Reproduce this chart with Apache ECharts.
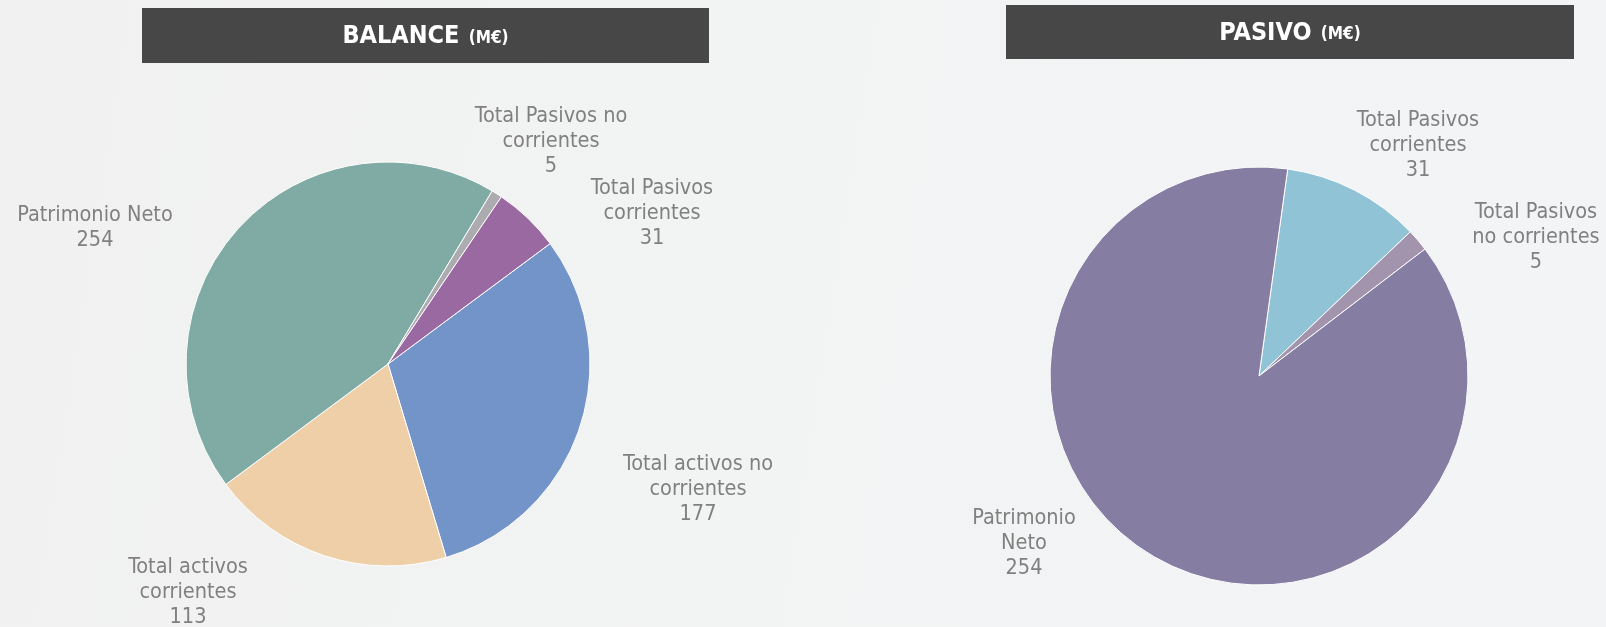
<!DOCTYPE html>
<html>
<head>
<meta charset="utf-8">
<script src="https://cdn.jsdelivr.net/npm/echarts@6/dist/echarts.min.js"></script>
<style>
  html, body { margin: 0; padding: 0; }
  #main { width: 1606px; height: 627px; }
</style>
</head>
<body>
<div id="main"></div>
<script>
// datos del balance (M€)
var balanceNames = ['Total activos no corrientes', 'Total activos corrientes', 'Patrimonio Neto', 'Total Pasivos no corrientes', 'Total Pasivos corrientes'];
var balanceLabels = ['Total activos no\ncorrientes', 'Total activos\ncorrientes', 'Patrimonio Neto', 'Total Pasivos no\ncorrientes', 'Total Pasivos\ncorrientes'];
var balanceValues = [177, 113, 254, 5, 31];
var balanceColors = ['#7394c9', '#efcfa7', '#7faba4', '#acacb0', '#9b69a2'];

// datos del pasivo (M€)
var pasivoNames = ['Total Pasivos corrientes', 'Total Pasivos no corrientes', 'Patrimonio Neto'];
var pasivoLabels = ['Total Pasivos\ncorrientes', 'Total Pasivos\nno corrientes', 'Patrimonio\nNeto'];
var pasivoValues = [31, 5, 254];
var pasivoColors = ['#8fc3d5', '#a394ad', '#867da3'];

// posicion de las etiquetas (centro del texto)
var labelPos = [
    [[698, 489], [188, 592], [95, 228], [551, 141], [652, 213]],
    [[1418, 145], [1536, 237], [1024, 543]]
];

var labelFont = "'DejaVu Sans Condensed', 'Liberation Sans Narrow', sans-serif";

function buildData(names, labels, values, colors) {
    var arr = [];
    for (var i = 0; i < names.length; i++) {
        arr.push({
            name: names[i],
            value: values[i],
            label: { formatter: labels[i] + '\n{c}' },
            itemStyle: { color: colors[i] }
        });
    }
    return arr;
}

function header(x, y, w, h, title) {
    return {
        type: 'group',
        children: [{
            type: 'rect',
            shape: { x: x, y: y, width: w, height: h },
            style: { fill: '#474747' }
        }, {
            type: 'text',
            x: x + w / 2,
            y: y + h / 2 + 1,
            style: {
                text: '{a|' + title + '}{b| (M€)}',
                align: 'center',
                verticalAlign: 'middle',
                rich: {
                    a: { fill: '#ffffff', fontSize: 25, fontWeight: 'bold', fontFamily: labelFont },
                    b: { fill: '#ffffff', fontSize: 17, fontWeight: 'bold', fontFamily: labelFont, padding: [4, 0, 0, 4] }
                }
            }
        }]
    };
}

var pieBase = {
    type: 'pie',
    clockwise: true,
    avoidLabelOverlap: false,
    animation: false,
    label: {
        show: true,
        position: 'outside',
        color: '#808080',
        fontSize: 21.5,
        lineHeight: 25,
        fontFamily: labelFont
    },
    labelLine: { show: false },
    itemStyle: { borderColor: '#ffffff', borderWidth: 1 },
    emphasis: { disabled: true },
    labelLayout: function (params) {
        var p = labelPos[params.seriesIndex][params.dataIndex];
        return { x: p[0], y: p[1], align: 'center', verticalAlign: 'middle' };
    }
};

var option = {
    backgroundColor: {
        type: 'linear', x: 0, y: 0, x2: 1, y2: 0.4,
        colorStops: [
            { offset: 0, color: '#f1f1f1' },
            { offset: 0.5, color: '#f2f3f3' },
            { offset: 1, color: '#f3f4f6' }
        ]
    },
    graphic: [
        header(142, 8, 567, 55, 'BALANCE'),
        header(1006, 5, 568, 54, 'PASIVO')
    ],
    series: [
        Object.assign({}, pieBase, {
            name: 'Balance',
            center: [388, 364],
            radius: 202,
            startAngle: 36.6,
            data: buildData(balanceNames, balanceLabels, balanceValues, balanceColors)
        }),
        Object.assign({}, pieBase, {
            name: 'Pasivo',
            center: [1259, 376],
            radius: 209,
            startAngle: 82.1,
            data: buildData(pasivoNames, pasivoLabels, pasivoValues, pasivoColors)
        })
    ]
};

var myChart = echarts.init(document.getElementById('main'));
myChart.setOption(option);
</script>
</body>
</html>
